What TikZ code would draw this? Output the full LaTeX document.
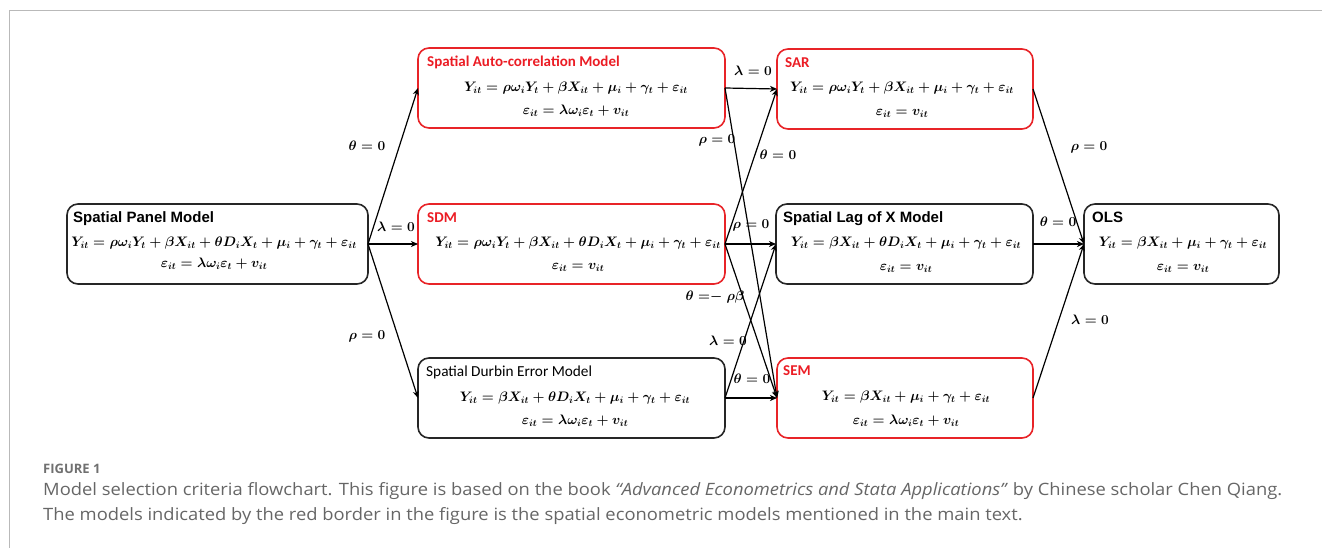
\documentclass[tikz,border=0pt]{standalone}
\usepackage{fontspec}
\usetikzlibrary{arrows.meta}
\newfontfamily\arialf{Liberation Sans}
\newfontfamily\calf{Carlito}
\newfontfamily\capf[FakeStretch=1.08]{Open Sans}
\newfontfamily\caphead{Open Sans}
\definecolor{boxred}{RGB}{232,36,40}
\definecolor{titlered}{RGB}{235,28,36}
\definecolor{capgray}{RGB}{102,102,102}
\definecolor{headgray}{RGB}{112,112,112}
\definecolor{framegray}{RGB}{185,185,185}

\tikzset{
  mbox/.style={draw=black!85, line width=1.6pt, rounded corners=11pt,
    minimum height=80pt, inner sep=0pt, outer sep=0pt},
  rbox/.style={mbox, draw=boxred},
  ttlA/.style={anchor=mid west, inner sep=0pt, font=\arialf\bfseries\fontsize{15}{18}\selectfont},
  ttlR/.style={anchor=mid west, inner sep=0pt, text=titlered, font=\calf\bfseries\fontsize{15}{17}\selectfont},
  ttlC/.style={anchor=mid west, inner sep=0pt, font=\calf\fontsize{15.3}{17}\selectfont},
  eq/.style={anchor=mid, inner sep=0pt, scale=0.953, font=\fontsize{14.4}{16}\selectfont\boldmath},
  lab/.style={anchor=mid, inner sep=1pt, scale=0.95, font=\fontsize{14.4}{16}\selectfont\boldmath},
  conn/.style={line width=1.2pt, -{Stealth[length=7pt,width=6pt,inset=2pt]}},
  captxt/.style={anchor=mid west, inner sep=0pt, text=capgray, font=\capf\fontsize{17}{20}\selectfont},
}

\begin{document}
\begin{tikzpicture}[x=1pt,y=-1pt]
\useasboundingbox (0,0) rectangle (1322,548);
% page frame
\draw[framegray, line width=1pt] (1322,10.5) -- (9.5,10.5) -- (9.5,548);

% ---- boxes ----
\node[mbox, minimum width=301pt] (spm)  at (217.5,244) {};
\node[rbox, minimum width=307pt] (sac)  at (571.5,88) {};
\node[rbox, minimum width=307pt] (sdm)  at (571.5,244) {};
\node[mbox, minimum width=307pt] (sdem) at (571.5,398) {};
\node[rbox, minimum width=256pt] (sar)  at (905,89) {};
\node[mbox, minimum width=257pt] (slx)  at (904.5,244) {};
\node[rbox, minimum width=256pt] (sem)  at (905,398) {};
\node[mbox, minimum width=195pt] (ols)  at (1181.5,244) {};

% ---- titles ----
\node[ttlA] (spmT)  at (73,220) {Spatial Panel Model};
\node[ttlR] (sacT)  at (427,64) {Spatial Auto-correlation Model};
\node[ttlR] (sdmT)  at (427,220) {SDM};
\node[ttlC] (sdemT) at (426,374) {Spatial Durbin Error Model};
\node[ttlR] (sarT)  at (785,65) {SAR};
\node[ttlA] (slxT)  at (783,220) {Spatial Lag of X Model};
\node[ttlR] (semT)  at (783,373) {SEM};
\node[ttlA] (olsT)  at (1092,220) {OLS};

% ---- equations ----
\node[eq] (spmA) at (214,244) {$Y_{it} = \rho\omega_iY_t + \beta X_{it} + \theta D_iX_t + \mu_i + \gamma_t + \varepsilon_{it}$};
\node[eq] (spmB) at (214,265) {$\varepsilon_{it} = \lambda\omega_i\varepsilon_t + v_{it}$};
\node[eq] (sacA) at (576,89) {$Y_{it} = \rho\omega_iY_t + \beta X_{it} + \mu_i + \gamma_t + \varepsilon_{it}$};
\node[eq] (sacB) at (576,112) {$\varepsilon_{it} = \lambda\omega_i\varepsilon_t + v_{it}$};
\node[eq] (sdmA) at (578,244) {$Y_{it} = \rho\omega_iY_t + \beta X_{it} + \theta D_iX_t + \mu_i + \gamma_t + \varepsilon_{it}$};
\node[eq] (sdmB) at (578,267) {$\varepsilon_{it} = v_{it}$};
\node[eq] (sdemA) at (575,399) {$Y_{it} = \beta X_{it} + \theta D_iX_t + \mu_i + \gamma_t + \varepsilon_{it}$};
\node[eq] (sdemB) at (575,422) {$\varepsilon_{it} = \lambda\omega_i\varepsilon_t + v_{it}$};
\node[eq] (sarA) at (902,89) {$Y_{it} = \rho\omega_iY_t + \beta X_{it} + \mu_i + \gamma_t + \varepsilon_{it}$};
\node[eq] (sarB) at (902,113) {$\varepsilon_{it} = v_{it}$};
\node[eq] (slxA) at (906,244) {$Y_{it} = \beta X_{it} + \theta D_iX_t + \mu_i + \gamma_t + \varepsilon_{it}$};
\node[eq] (slxB) at (906,268) {$\varepsilon_{it} = v_{it}$};
\node[eq] (semA) at (906,398) {$Y_{it} = \beta X_{it} + \mu_i + \gamma_t + \varepsilon_{it}$};
\node[eq] (semB) at (906,422) {$\varepsilon_{it} = \lambda\omega_i\varepsilon_t + v_{it}$};
\node[eq] (olsA) at (1183,244) {$Y_{it} = \beta X_{it} + \mu_i + \gamma_t + \varepsilon_{it}$};
\node[eq] (olsB) at (1183,268) {$\varepsilon_{it} = v_{it}$};

% ---- connectors ----
\draw[conn] (spm.east) -- (sac.west);
\draw[conn] (spm.east) -- (sdm.west);
\draw[conn] (spm.east) -- (sdem.west);
\draw[conn] (sac.east) -- (sar.west);
\draw[conn] (sac.east) -- (sem.west);
\draw[conn] (sdm.east) -- (sar.west);
\draw[conn] (sdm.east) -- (slx.west);
\draw[conn] (sdm.east) -- (sem.west);
\draw[conn] (sdem.east) -- (slx.west);
\draw[conn] (sdem.east) -- (sem.west);
\draw[conn] (sar.east) -- (ols.west);
\draw[conn] (slx.east) -- (ols.west);
\draw[conn] (sem.east) -- (ols.west);

% ---- restriction labels ----
\node[lab] (l1)  at (367,148) {$\theta = 0$};
\node[lab] (l2)  at (396,229) {$\lambda = 0$};
\node[lab] (l3)  at (367,337) {$\rho = 0$};
\node[lab] (l4)  at (753,73)  {$\lambda = 0$};
\node[lab] (l5)  at (717,141) {$\rho = 0$};
\node[lab] (l6)  at (778,157) {$\theta = 0$};
\node[lab] (l7)  at (751,226) {$\rho = 0$};
\node[lab] (l8)  at (715,298) {$\theta\;{=}{-}\;\rho\beta$};
\node[lab] (l9)  at (728,343) {$\lambda = 0$};
\node[lab] (l10) at (752,381) {$\theta = 0$};
\node[lab] (l11) at (1089,148) {$\rho = 0$};
\node[lab] (l12) at (1058,224) {$\theta = 0$};
\node[lab] (l13) at (1090,322) {$\lambda = 0$};

% ---- caption ----
\node[anchor=mid west, inner sep=0pt, text=headgray, font=\caphead\bfseries\fontsize{13}{15}\selectfont] (capH) at (43,471) {FIGURE 1};
\node[captxt] (capL1) at (43,493)
  {Model selection criteria flowchart. This figure is based on the book \textit{“Advanced Econometrics and Stata Applications”} by Chinese scholar Chen Qiang.};
\node[captxt] (capL2) at (43,518)
  {The models indicated by the red border in the figure is the spatial econometric models mentioned in the main text.};
\end{tikzpicture}
\end{document}
